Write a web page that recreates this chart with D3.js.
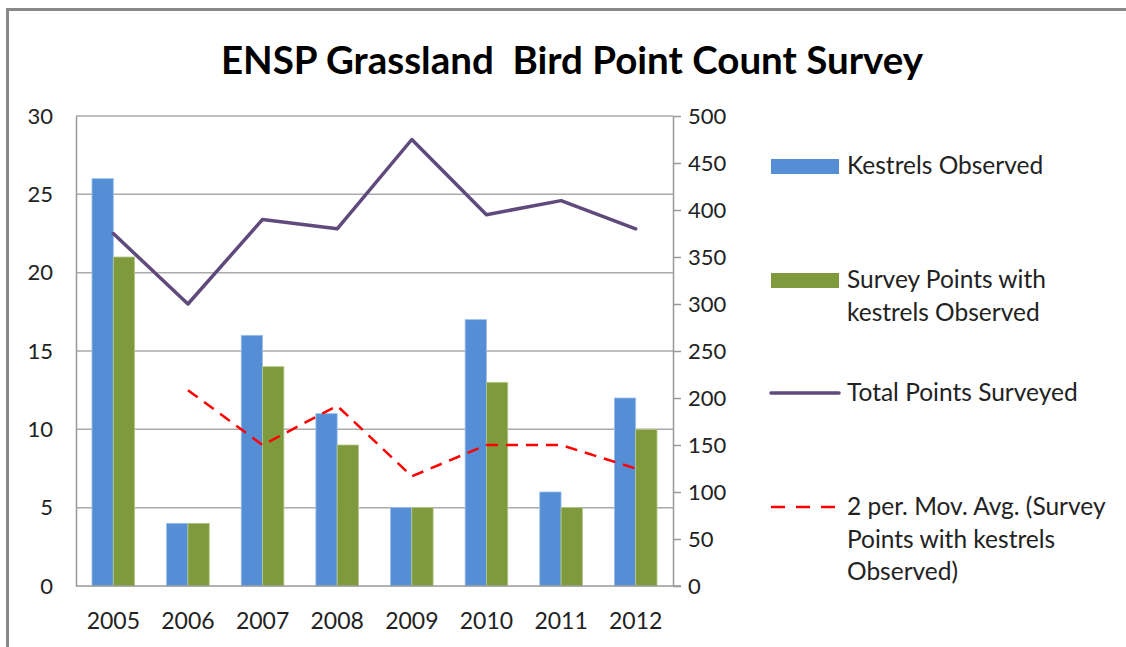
<!DOCTYPE html>
<html>
<head>
<meta charset="utf-8">
<script src="https://cdn.jsdelivr.net/npm/d3@7"></script>
<style>
  body { margin: 0; background: #fff; }
  text { font-family: Lato, "Open Sans", sans-serif; fill: #222; }
</style>
</head>
<body>
<div id="chart"></div>
<script>
// dados
const years = ['2005', '2006', '2007', '2008', '2009', '2010', '2011', '2012'];
const kestrels = [26, 4, 16, 11, 5, 17, 6, 12];
const surveyPoints = [21, 4, 14, 9, 5, 13, 5, 10];
const totalPoints = [375, 300, 390, 380, 475, 395, 410, 380];
const movAvg = [null, 12.5, 9, 11.5, 7, 9, 9, 7.5];
const leftTicks = [0, 5, 10, 15, 20, 25, 30];
const rightTicks = [0, 50, 100, 150, 200, 250, 300, 350, 400, 450, 500];

const W = 1126, H = 647;
const plot = { left: 76, right: 673, top: 116, bottom: 586 };

const svg = d3.select('#chart')
    .append('svg')
    .attr('width', W)
    .attr('height', H);

// moldura (cortada a direita e embaixo)
svg.append('path')
    .attr('d', `M7.5,${H} L7.5,9.5 L${W},9.5`)
    .attr('fill', 'none')
    .attr('stroke', '#888')
    .attr('stroke-width', 3);

svg.append('text')
    .attr('x', 572)
    .attr('y', 74)
    .attr('text-anchor', 'middle')
    .style('font-size', '38.5px')
    .style('font-weight', 'bold')
    .style('fill', '#000')
    .text('ENSP Grassland\u00a0 Bird Point Count Survey');

const x = d3.scaleBand()
    .domain(years)
    .range([plot.left, plot.right]);

const xs = d3.scaleBand()
    .domain(['k', 's'])
    .range([0, x.bandwidth()])
    .paddingInner(0)
    .paddingOuter(0.75);

const yL = d3.scaleLinear().domain([0, 30]).range([plot.bottom, plot.top]);
const yR = d3.scaleLinear().domain([0, 500]).range([plot.bottom, plot.top]);

// grade
svg.append('g')
    .selectAll('line')
    .data(leftTicks.slice(1))
    .join('line')
    .attr('x1', plot.left)
    .attr('x2', plot.right)
    .attr('y1', d => yL(d))
    .attr('y2', d => yL(d))
    .attr('stroke', '#aaa')
    .attr('stroke-width', 1.5);

// eixo esquerdo
const axisL = svg.append('g')
    .attr('transform', `translate(${plot.left},0)`)
    .call(d3.axisLeft(yL).tickValues(leftTicks).tickSize(0).tickPadding(23));
axisL.select('.domain').attr('stroke', '#999').attr('stroke-width', 1.5);
axisL.selectAll('text').style('font-size', '22px').style('font-family', 'Lato, sans-serif').attr('fill', '#222');

// eixo direito
const axisR = svg.append('g')
    .attr('transform', `translate(${plot.right},0)`)
    .call(d3.axisRight(yR).tickValues(rightTicks).tickSize(8).tickSizeOuter(0).tickPadding(7));
axisR.select('.domain').attr('stroke', '#999').attr('stroke-width', 1.5);
axisR.selectAll('.tick line').attr('stroke', '#999').attr('stroke-width', 1.5);
axisR.selectAll('text').style('font-size', '22px').style('font-family', 'Lato, sans-serif').attr('fill', '#222');

// barras
const groups = svg.append('g')
    .selectAll('g')
    .data(years)
    .join('g')
    .attr('transform', d => `translate(${x(d)},0)`);

groups.append('rect')
    .attr('x', xs('k'))
    .attr('width', xs.bandwidth())
    .attr('y', (d, i) => yL(kestrels[i]))
    .attr('height', (d, i) => plot.bottom - yL(kestrels[i]))
    .attr('fill', '#558ed5')
    .attr('stroke', '#9cc0ec')
    .attr('stroke-width', 0.8);

groups.append('rect')
    .attr('x', xs('s'))
    .attr('width', xs.bandwidth())
    .attr('y', (d, i) => yL(surveyPoints[i]))
    .attr('height', (d, i) => plot.bottom - yL(surveyPoints[i]))
    .attr('fill', '#7f993d')
    .attr('stroke', '#b5c98a')
    .attr('stroke-width', 0.8);

// eixo de baixo
const axisB = svg.append('g')
    .attr('transform', `translate(0,${plot.bottom})`)
    .call(d3.axisBottom(x).tickSize(0).tickPadding(27));
axisB.select('.domain').attr('stroke', '#999').attr('stroke-width', 1.5)
    .attr('d', `M${plot.left},0H${plot.right + 8}`);
axisB.selectAll('text').style('font-size', '23px').style('font-family', 'Lato, sans-serif').attr('fill', '#222');

const cx = d => x(d) + x.bandwidth() / 2;

// linha total
const lineTotal = d3.line()
    .x((d, i) => cx(years[i]))
    .y(d => yR(d));

svg.append('path')
    .datum(totalPoints)
    .attr('d', lineTotal)
    .attr('fill', 'none')
    .attr('stroke', '#604a7b')
    .attr('stroke-width', 3.5)
    .attr('stroke-linejoin', 'round')
    .attr('stroke-linecap', 'round');

// media movel
const lineAvg = d3.line()
    .defined(d => d != null)
    .x((d, i) => cx(years[i]))
    .y(d => yL(d));

svg.append('path')
    .datum(movAvg)
    .attr('d', lineAvg)
    .attr('fill', 'none')
    .attr('stroke', '#ff0000')
    .attr('stroke-width', 2.5)
    .attr('stroke-dasharray', '12,8');

// legenda
const legend = [
    { type: 'rect', color: '#558ed5', y: 166, lines: ['Kestrels Observed'] },
    { type: 'rect', color: '#7f993d', y: 280, lines: ['Survey Points with', 'kestrels Observed'] },
    { type: 'line', color: '#604a7b', y: 393, lines: ['Total Points Surveyed'] },
    { type: 'dash', color: '#ff0000', y: 507, lines: ['2 per. Mov. Avg. (Survey', 'Points with kestrels', 'Observed)'] }
];

const leg = svg.append('g')
    .selectAll('g')
    .data(legend)
    .join('g');

leg.filter(d => d.type === 'rect')
    .append('rect')
    .attr('x', 771)
    .attr('y', d => d.y - 7)
    .attr('width', 68)
    .attr('height', 15)
    .attr('fill', d => d.color);

leg.filter(d => d.type !== 'rect')
    .append('line')
    .attr('x1', 771)
    .attr('x2', 839)
    .attr('y1', d => d.y)
    .attr('y2', d => d.y)
    .attr('stroke', d => d.color)
    .attr('stroke-width', d => d.type === 'line' ? 3.5 : 2.5)
    .attr('stroke-linecap', d => d.type === 'line' ? 'round' : 'butt')
    .attr('stroke-dasharray', d => d.type === 'dash' ? '14,11' : null);

leg.each(function (d) {
    d3.select(this).selectAll('text')
        .data(d.lines)
        .join('text')
        .attr('x', 847)
        .attr('y', (t, i) => d.y + 8 + i * 32.5)
        .style('font-size', '24.5px')
        .text(t => t);
});
</script>
</body>
</html>
